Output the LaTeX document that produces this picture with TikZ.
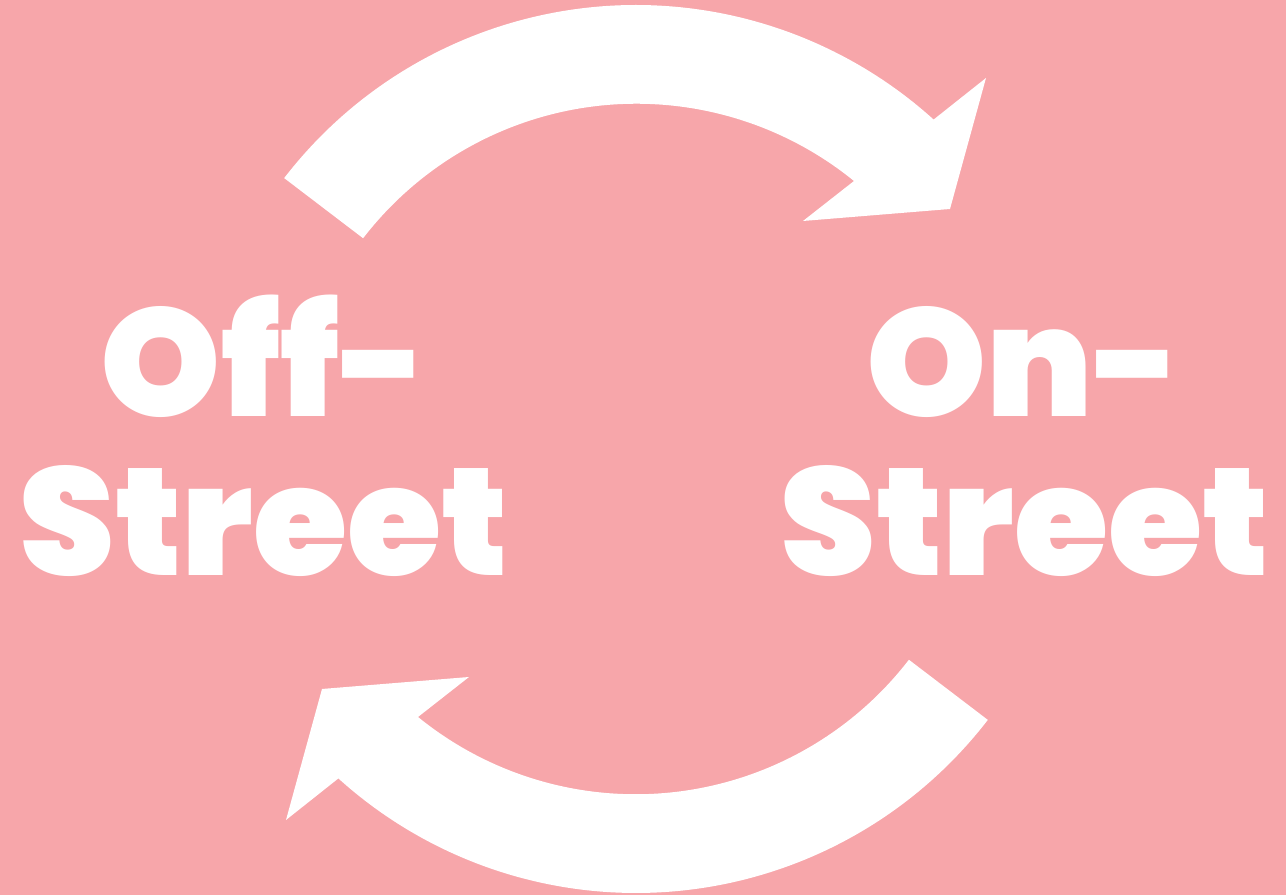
\documentclass[tikz,border=0pt]{standalone}
\usepackage{fontspec}
\newfontfamily\heavyfont{Poppins}[UprightFont=* Black]
\usetikzlibrary{calc}
\definecolor{rosebg}{RGB}{247,166,170}
\tikzset{
  word/.style={text=white, font=\heavyfont\fontsize{87}{90}\selectfont, inner sep=0pt, anchor=base},
  sweep/.style={fill=white, draw=none}
}
\begin{document}
\begin{tikzpicture}[x=0.02cm, y=0.02cm]
  \useasboundingbox (0,0) rectangle (1286,895);
  % background
  \fill[rosebg] (0,0) rectangle (1286,895);
  % arrows (upper one, then turned half round)
  \foreach \turn in {0,180}
    \fill[sweep, rotate around={\turn:(636,446)}] (284.2,716.9)
      arc[start angle=142.4, end angle=47.9, radius=444]
      -- (986,817) -- (950,686) -- (803,674) -- (854,714)
      arc[start angle=50.9, end angle=142.4, radius=345] -- cycle;
  % labels
  \node[word] (offtop) at (264,478) {Off-};
  \node[word] (offbot) at (264,319) {Street};
  \node[word] (ontop) at (1024,478) {On-};
  \node[word] (onbot) at (1025,319) {Street};
\end{tikzpicture}
\end{document}
